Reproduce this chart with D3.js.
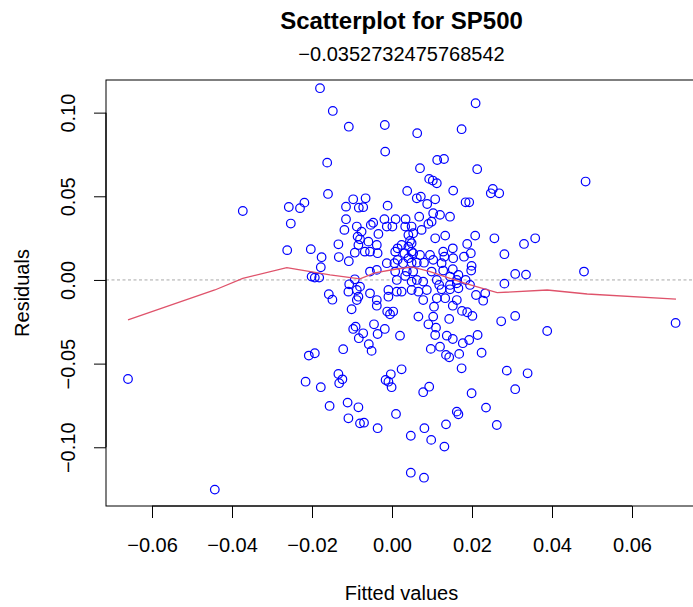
<!DOCTYPE html>
<html>
<head>
<meta charset="utf-8">
<script src="https://cdn.jsdelivr.net/npm/d3@7"></script>
<style>
  body { margin: 0; background: #fff; }
  svg text { font-family: "Liberation Sans", Arial, sans-serif; fill: #000; }
</style>
</head>
<body>
<div id="container"></div>
<script>
// chart values
var chartTitle = "Scatterplot for SP500";
var chartSubtitle = "\u22120.0352732475768542";
var xLabel = "Fitted values";
var yLabel = "Residuals";

var xTicks = [-0.06, -0.04, -0.02, 0.00, 0.02, 0.04, 0.06];
var yTicks = [-0.10, -0.05, 0.00, 0.05, 0.10];

var fitted = [
  -0.0373, -0.0258, -0.0230, -0.0253, -0.0262, -0.0660, -0.0443, -0.0180, -0.0148, -0.0108,
  -0.0162, -0.0160, -0.0219, -0.0097, -0.0115, -0.0083, -0.0115, -0.0119, -0.0088, -0.0086,
  -0.0134, -0.0203, -0.0176, -0.0133, -0.0108, -0.0093, -0.0084, -0.0178, -0.0201, -0.0193,
  -0.0182, -0.0093, -0.0158, -0.0107, -0.0109, -0.0088, -0.0149, -0.0088, -0.0101, -0.0097,
  -0.0091, -0.0083, -0.0122, -0.0208, -0.0193, -0.0216, -0.0178, -0.0134, -0.0124, -0.0132,
  -0.0156, -0.0111, -0.0109, -0.0084, -0.0080, -0.0018, -0.0017, 0.0063, 0.0070, 0.0038,
  -0.0066, -0.0072, -0.0011, -0.0047, -0.0019, 0.0009, 0.0034, -0.0053, -0.0013, 0.0001,
  0.0033, -0.0076, -0.0034, 0.0041, -0.0080, -0.0059, 0.0045, -0.0038, 0.0024, 0.0014,
  0.0041, -0.0068, -0.0055, -0.0036, 0.0008, 0.0031, 0.0049, 0.0014, 0.0041, -0.0013,
  0.0006, 0.0028, 0.0049, -0.0055, -0.0038, 0.0008, 0.0037, 0.0012, 0.0033, 0.0049,
  -0.0080, -0.0009, 0.0024, -0.0055, 0.0049, -0.0084, -0.0038, -0.0038, -0.0009, 0.0012,
  -0.0012, 0.0003, -0.0005, -0.0045, -0.0072, -0.0036, -0.0018, 0.0020, -0.0058, -0.0051,
  0.0024, -0.0003, -0.0016, -0.0009, -0.0001, -0.0070, -0.0036, 0.0010, 0.0047, 0.0047,
  0.0174, 0.0113, 0.0130, 0.0093, 0.0102, 0.0112, 0.0153, 0.0184, 0.0062, 0.0072,
  0.0088, 0.0108, 0.0068, 0.0103, 0.0120, 0.0145, 0.0091, 0.0099, 0.0049, 0.0053,
  0.0074, 0.0108, 0.0133, 0.0049, 0.0188, 0.0053, 0.0070, 0.0095, 0.0128, 0.0131,
  0.0152, 0.0103, 0.0062, 0.0080, 0.0124, 0.0153, 0.0180, 0.0053, 0.0099, 0.0128,
  0.0152, 0.0166, 0.0062, 0.0078, 0.0112, 0.0145, 0.0162, 0.0118, 0.0124, 0.0066,
  0.0087, 0.0145, 0.0166, 0.0162, 0.0145, 0.0078, 0.0112, 0.0133, 0.0162, 0.0152,
  0.0175, 0.0105, 0.0066, 0.0103, 0.0143, 0.0091, 0.0110, 0.0108, 0.0137, 0.0152,
  0.0177, 0.0097, 0.0120, 0.0135, 0.0143, 0.0168, 0.0174, 0.0078, 0.0093, 0.0162,
  0.0166, 0.0135, 0.0081, 0.0098, 0.0131, 0.0080, 0.0209, 0.0213, 0.0484, 0.0252,
  0.0247, 0.0268, 0.0193, 0.0208, 0.0256, 0.0330, 0.0358, 0.0197, 0.0281, 0.0199,
  0.0198, 0.0308, 0.0335, 0.0480, 0.0184, 0.0195, 0.0281, 0.0210, 0.0233, 0.0228,
  0.0188, 0.0201, 0.0273, 0.0308, 0.0388, 0.0709, 0.0214, 0.0193, 0.0224, 0.0287,
  0.0339, 0.0199, 0.0308, 0.0235, 0.0262
];

var residuals = [
  0.0412, 0.0436, 0.0429, 0.0337, 0.0178, -0.0592, -0.1253, 0.1146, 0.1010, 0.0916,
  0.0701, 0.0514, 0.0462, 0.0482, 0.0438, 0.0432, 0.0363, 0.0299, 0.0319, 0.0259,
  0.0213, 0.0184, 0.0136, 0.0137, 0.0112, 0.0163, 0.0209, 0.0076, 0.0020, 0.0014,
  0.0014, 0.0004, -0.0085, -0.0026, -0.0070, -0.0060, -0.0118, -0.0120, -0.0175, -0.0293,
  -0.0279, -0.0348, -0.0414, -0.0452, -0.0438, -0.0608, -0.0641, -0.0562, -0.0594, -0.0617,
  -0.0753, -0.0733, -0.0827, -0.0761, -0.0857, 0.0926, 0.0767, 0.0877, 0.0668, 0.0532,
  0.0488, 0.0435, 0.0444, 0.0342, 0.0363, 0.0363, 0.0363, 0.0329, 0.0319, 0.0319,
  0.0319, 0.0289, 0.0275, 0.0269, 0.0243, 0.0229, 0.0233, 0.0209, 0.0209, 0.0189,
  0.0199, 0.0169, 0.0169, 0.0160, 0.0169, 0.0160, 0.0169, 0.0120, 0.0130, 0.0100,
  0.0100, 0.0100, 0.0103, 0.0050, 0.0060, 0.0050, 0.0050, 0.0000, 0.0024, -0.0010,
  -0.0040, -0.0060, -0.0070, -0.0080, -0.0060, -0.0100, -0.0120, -0.0154, -0.0100, -0.0070,
  -0.0189, -0.0189, -0.0205, -0.0265, -0.0319, -0.0323, -0.0293, -0.0333, -0.0384, -0.0424,
  -0.0534, -0.0564, -0.0598, -0.0608, -0.0641, -0.0853, -0.0886, -0.0801, -0.0931, -0.1152,
  0.0901, 0.0717, 0.0723, 0.0604, 0.0594, 0.0578, 0.0534, 0.0464, 0.0488, 0.0498,
  0.0454, 0.0482, 0.0378, 0.0399, 0.0389, 0.0378, 0.0335, 0.0348, 0.0319, 0.0279,
  0.0299, 0.0249, 0.0265, 0.0219, 0.0215, 0.0160, 0.0149, 0.0149, 0.0169, 0.0139,
  0.0189, 0.0120, 0.0103, 0.0103, 0.0100, 0.0130, 0.0139, 0.0050, 0.0050, 0.0056,
  0.0064, 0.0030, 0.0000, -0.0010, 0.0000, 0.0020, 0.0000, -0.0030, -0.0056, -0.0070,
  -0.0060, -0.0056, -0.0050, -0.0020, -0.0030, -0.0120, -0.0109, -0.0109, -0.0120, -0.0154,
  -0.0185, -0.0160, -0.0219, -0.0219, -0.0233, -0.0265, -0.0285, -0.0329, -0.0333, -0.0353,
  -0.0378, -0.0412, -0.0399, -0.0448, -0.0462, -0.0442, -0.0528, -0.0671, -0.0638, -0.0787,
  -0.0803, -0.0863, -0.0886, -0.0956, -0.0996, -0.1182, 0.1056, 0.0662, 0.0588, 0.0544,
  0.0518, 0.0518, 0.0464, 0.0265, 0.0249, 0.0215, 0.0249, 0.0160, 0.0154, 0.0084,
  0.0056, 0.0036, 0.0032, 0.0050, 0.0000, -0.0030, -0.0022, -0.0090, -0.0080, -0.0124,
  -0.0193, -0.0215, -0.0247, -0.0215, -0.0305, -0.0257, -0.0329, -0.0359, -0.0435, -0.0542,
  -0.0558, -0.0677, -0.0653, -0.0763, -0.0867
];

// lowess smooth (panel.smooth)
var smoothX = [-0.0660, -0.0443, -0.0373, -0.0263, -0.0230, -0.0155, -0.0080, -0.0043, 0.0008,
  0.0050, 0.0095, 0.0145, 0.0183, 0.0263, 0.0388, 0.0488, 0.0710];
var smoothY = [-0.0239, -0.0060, 0.0010, 0.0074, 0.0060, 0.0030, 0.0006, 0.0042, 0.0064,
  0.0078, 0.0050, 0.0010, -0.0020, -0.0076, -0.0060, -0.0084, -0.0114];

var W = 693, H = 607;
var box = { left: 106, right: 697, top: 80, bottom: 506 };

var svg = d3.select("#container").append("svg")
  .attr("width", W)
  .attr("height", H);

svg.append("rect").attr("width", W).attr("height", H).attr("fill", "#fff");

var x = d3.scaleLinear().domain([-0.0715, 0.07625]).range([box.left, box.right]);
var y = d3.scaleLinear().domain([-0.1351, 0.1195]).range([box.bottom, box.top]);

var fmt = function(d) { return d3.format(".2f")(d).replace("-", "\u2212"); };

// clip to plot region
svg.append("clipPath").attr("id", "plotclip")
  .append("rect")
    .attr("x", box.left).attr("y", box.top)
    .attr("width", box.right - box.left).attr("height", box.bottom - box.top);

var plot = svg.append("g").attr("clip-path", "url(#plotclip)");

// zero reference line
plot.append("line")
  .attr("x1", box.left).attr("x2", box.right)
  .attr("y1", y(0)).attr("y2", y(0))
  .attr("stroke", "#a8a8a8")
  .attr("stroke-width", 1)
  .attr("stroke-dasharray", "3,2.5");

// points
plot.selectAll(".dot")
    .data(d3.range(fitted.length))
  .enter().append("circle")
    .attr("class", "dot")
    .attr("cx", function(i) { return x(fitted[i]); })
    .attr("cy", function(i) { return y(residuals[i]); })
    .attr("r", 4.3)
    .attr("fill", "none")
    .attr("stroke", "#0000ff")
    .attr("stroke-width", 1.2);

// smooth line
var smoothLine = d3.line()
  .x(function(i) { return x(smoothX[i]); })
  .y(function(i) { return y(smoothY[i]); });

plot.append("path")
  .attr("d", smoothLine(d3.range(smoothX.length)))
  .attr("fill", "none")
  .attr("stroke", "#DF536B")
  .attr("stroke-width", 1.3);

// box
svg.append("rect")
  .attr("x", box.left).attr("y", box.top)
  .attr("width", box.right - box.left).attr("height", box.bottom - box.top)
  .attr("fill", "none")
  .attr("stroke", "#000")
  .attr("stroke-width", 1);

// x axis
var xAxis = svg.append("g")
  .attr("transform", "translate(0," + box.bottom + ")")
  .call(d3.axisBottom(x).tickValues(xTicks).tickFormat(fmt).tickSize(12).tickSizeOuter(0));
xAxis.select(".domain").remove();
xAxis.selectAll(".tick line").attr("stroke", "#000");
xAxis.selectAll(".tick text")
  .attr("y", 46).attr("dy", 0)
  .attr("font-size", 20)
  .attr("font-family", null);

// axis line between first and last tick
svg.append("line")
  .attr("x1", x(xTicks[0])).attr("x2", x(xTicks[xTicks.length - 1]))
  .attr("y1", box.bottom).attr("y2", box.bottom)
  .attr("stroke", "#000").attr("stroke-width", 1.2);

// y axis
var yAxis = svg.append("g")
  .attr("transform", "translate(" + box.left + ",0)")
  .call(d3.axisLeft(y).tickValues(yTicks).tickFormat(fmt).tickSize(12).tickSizeOuter(0));
yAxis.select(".domain").remove();
yAxis.selectAll(".tick line").attr("stroke", "#000");
yAxis.selectAll(".tick text")
  .attr("x", 0).attr("y", 0).attr("dy", 0)
  .attr("text-anchor", "middle")
  .attr("transform", "translate(-31,0) rotate(-90)")
  .attr("font-size", 20)
  .attr("font-family", null);

svg.append("line")
  .attr("x1", box.left).attr("x2", box.left)
  .attr("y1", y(yTicks[0])).attr("y2", y(yTicks[yTicks.length - 1]))
  .attr("stroke", "#000").attr("stroke-width", 1.2);

// titles
var midX = (box.left + box.right) / 2;

svg.append("text")
  .attr("x", midX).attr("y", 28.5)
  .attr("text-anchor", "middle")
  .attr("font-size", 24)
  .attr("font-weight", "bold")
  .text(chartTitle);

svg.append("text")
  .attr("x", midX).attr("y", 61)
  .attr("text-anchor", "middle")
  .attr("font-size", 20)
  .text(chartSubtitle);

svg.append("text")
  .attr("x", midX).attr("y", 600)
  .attr("text-anchor", "middle")
  .attr("font-size", 20)
  .text(xLabel);

svg.append("text")
  .attr("transform", "translate(29," + ((box.top + box.bottom) / 2) + ") rotate(-90)")
  .attr("text-anchor", "middle")
  .attr("font-size", 20)
  .text(yLabel);
</script>
</body>
</html>
